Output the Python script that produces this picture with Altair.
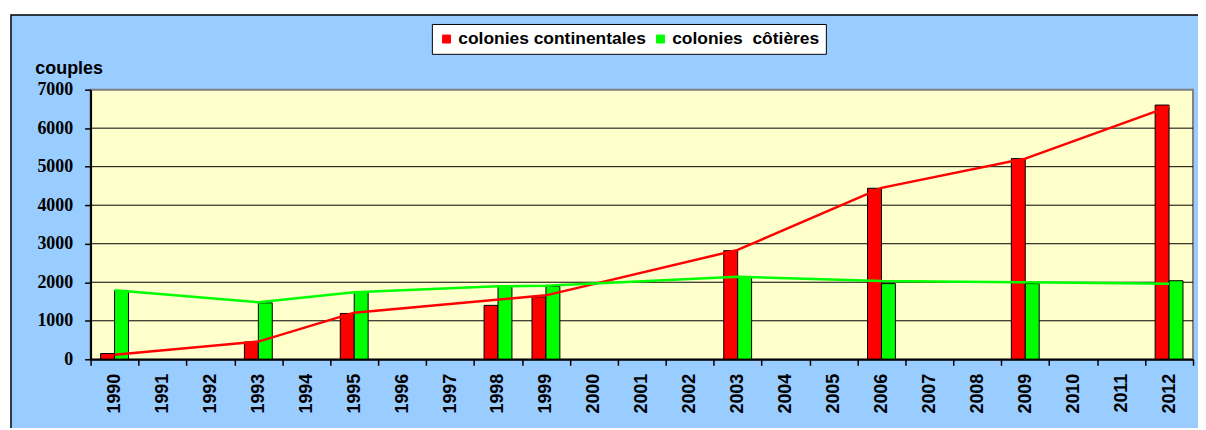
import altair as alt
import pandas as pd

# ---- data ----
all_years = [str(y) for y in range(1990, 2013)]
years = ["1990", "1993", "1995", "1998", "1999", "2003", "2006", "2009", "2012"]
# bar heights
continentales = [150, 450, 1190, 1400, 1620, 2820, 4440, 5210, 6600]
cotieres = [1780, 1465, 1740, 1910, 1890, 2150, 1965, 1965, 2040]
# line series (drawn separately in the reference; red line has no point in 1998)
line_cont_years = ["1990", "1993", "1995", "1999", "2003", "2006", "2009", "2012"]
line_cont = [120, 460, 1210, 1660, 2840, 4450, 5210, 6560]
line_cot_years = ["1990", "1993", "1995", "1998", "1999", "2003", "2006", "2009", "2012"]
line_cot = [1790, 1480, 1740, 1895, 1910, 2145, 2030, 2000, 1960]

series_names = ["colonies continentales", "colonies\u00a0 côtières"]
series_colors = ["#FF0000", "#00FF00"]
y_ticks = [0, 1000, 2000, 3000, 4000, 5000, 6000, 7000]
grid_values = [1000, 2000, 3000, 4000, 5000, 6000]

W, H = 1108, 271

rows = []
for i, y in enumerate(years):
    rows.append({"year": y, "series": series_names[0], "value": continentales[i]})
    rows.append({"year": y, "series": series_names[1], "value": cotieres[i]})
df = pd.DataFrame(rows)

lrows = []
for y, v in zip(line_cont_years, line_cont):
    lrows.append({"year": y, "series": series_names[0], "value": v})
for y, v in zip(line_cot_years, line_cot):
    lrows.append({"year": y, "series": series_names[1], "value": v})
ldf = pd.DataFrame(lrows)

grid_df = pd.DataFrame({"value": grid_values})
one = pd.DataFrame({"a": [0]})

x_scale = alt.Scale(domain=all_years, paddingInner=0, paddingOuter=0)
y_scale = alt.Scale(domain=[0, 7000], nice=False)

x_axis = alt.Axis(
    title=None, labelAngle=270, labelAlign="right", labelBaseline="middle",
    labelFont="Liberation Sans", labelFontWeight="bold", labelFontSize=18,
    labelColor="black", labelPadding=8, tickBand="extent", tickSize=6,
    tickColor="black", tickWidth=1.5, domainColor="black", domainWidth=2,
    grid=False, zindex=1,
)
y_axis = alt.Axis(
    title="couples", titleAngle=0, titleX=-56, titleY=-16, titleAlign="left",
    titleBaseline="alphabetic", titleFont="Liberation Sans", titleFontWeight="bold",
    titleFontSize=18, titleColor="black",
    values=y_ticks, format="d", labelFont="Liberation Serif", labelFontWeight="bold",
    labelFontSize=18, labelColor="black", labelPadding=12, tickSize=6,
    tickColor="black", tickWidth=1.5, domainColor="black", domainWidth=2,
    grid=False, zindex=1,
)

frame = alt.Chart(one).mark_rect(fill="#99CCFF", stroke="black", strokeWidth=1.5).encode(
    x=alt.value(-80), x2=alt.value(W + 300), y=alt.value(-75), y2=alt.value(H + 300)
)
plot_bg = alt.Chart(one).mark_rect(fill="#FFFFCC", stroke="#808080", strokeWidth=2).encode(
    x=alt.value(0), x2=alt.value(W), y=alt.value(0), y2=alt.value(H)
)
grid = alt.Chart(grid_df).mark_rule(color="black", strokeWidth=1).encode(
    y=alt.Y("value:Q", scale=y_scale, axis=y_axis)
)

bars = alt.Chart(df).mark_bar(stroke="black", strokeWidth=1).encode(
    x=alt.X("year:O", scale=x_scale, axis=x_axis),
    xOffset=alt.XOffset("series:N", scale=alt.Scale(domain=series_names, paddingInner=0, paddingOuter=0.72)),
    y=alt.Y("value:Q", scale=y_scale, axis=y_axis),
    color=alt.Color(
        "series:N",
        scale=alt.Scale(domain=series_names, range=series_colors),
        legend=alt.Legend(
            orient="none", legendX=343, legendY=-66, direction="horizontal", title=None,
            fillColor="white", strokeColor="black", padding=6, symbolType="square",
            symbolSize=64, symbolStrokeColor="black", symbolStrokeWidth=1,
            labelFont="Liberation Sans", labelFontWeight="bold", labelFontSize=17.5,
            labelColor="black", labelLimit=400, columnPadding=5, labelOffset=3,
        ),
    ),
)

lines = alt.Chart(ldf).mark_line(strokeWidth=2.5).encode(
    x=alt.X("year:O", scale=x_scale, axis=x_axis),
    y=alt.Y("value:Q", scale=y_scale, axis=y_axis),
    stroke=alt.Stroke("series:N", scale=alt.Scale(domain=series_names, range=series_colors), legend=None),
)

chart = alt.layer(frame, plot_bg, grid, bars, lines).properties(
    width=W, height=H,
    padding={"left": 83, "top": 81, "right": 5, "bottom": 68},
    autosize=alt.AutoSizeParams(type="none"),
    background="white",
).configure_view(stroke="transparent")

chart.save("out.html", embed_options={"renderer": "svg", "actions": False})
